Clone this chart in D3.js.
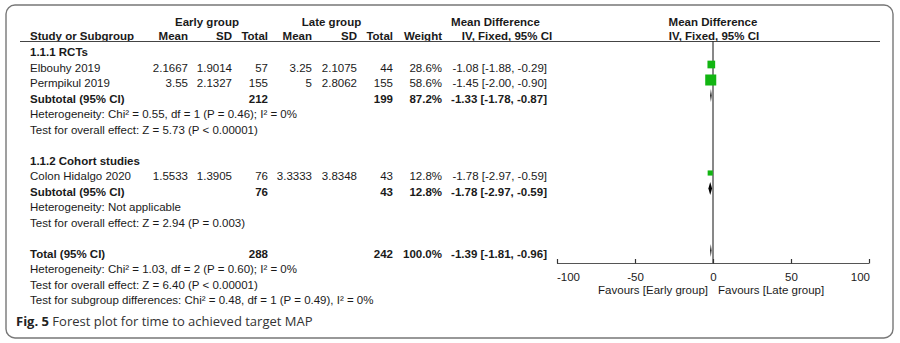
<!DOCTYPE html>
<html>
<head>
<meta charset="utf-8">
<script src="https://cdn.jsdelivr.net/npm/d3@7"></script>
<style>
  html, body { margin: 0; padding: 0; background: #fff; }
  svg { display: block; }
  text { font-family: "Liberation Sans", Arial, sans-serif; font-size: 11.5px; fill: #1a1a1a; }
  .b { font-weight: bold; }
  .cap { font-family: "Open Sans", "Noto Sans", sans-serif; font-size: 13px; fill: #333; }
</style>
</head>
<body>
<div id="chart"></div>
<script>
// ---------------- DATA ----------------
const studies      = ["Elbouhy 2019", "Permpikul 2019", "Colon Hidalgo 2020"];
const studyGroup   = [0, 0, 1];
const earlyMean    = ["2.1667", "3.55", "1.5533"];
const earlySD      = ["1.9014", "2.1327", "1.3905"];
const earlyTotal   = [57, 155, 76];
const lateMean     = ["3.25", "5", "3.3333"];
const lateSD       = ["2.1075", "2.8062", "3.8348"];
const lateTotal    = [44, 155, 43];
const weights      = [28.6, 58.6, 12.8];
const md           = [-1.08, -1.45, -1.78];
const ciLow        = [-1.88, -2.00, -2.97];
const ciHigh       = [-0.29, -0.90, -0.59];

const groupNames   = ["1.1.1 RCTs", "1.1.2 Cohort studies"];
const subEarly     = [212, 76];
const subLate      = [199, 43];
const subWeight    = [87.2, 12.8];
const subMd        = [-1.33, -1.78];
const subLow       = [-1.78, -2.97];
const subHigh      = [-0.87, -0.59];
const groupHet     = ["Heterogeneity: Chi² = 0.55, df = 1 (P = 0.46); I² = 0%", "Heterogeneity: Not applicable"];
const groupTest    = ["Test for overall effect: Z = 5.73 (P < 0.00001)", "Test for overall effect: Z = 2.94 (P = 0.003)"];

const totalEarly   = 288;
const totalLate    = 242;
const totalWeight  = 100.0;
const totalMd      = -1.39;
const totalLow     = -1.81;
const totalHigh    = -0.96;
const totalNotes   = ["Heterogeneity: Chi² = 1.03, df = 2 (P = 0.60); I² = 0%",
                      "Test for overall effect: Z = 6.40 (P < 0.00001)",
                      "Test for subgroup differences: Chi² = 0.48, df = 1 (P = 0.49), I² = 0%"];

const axisTicks    = [-100, -50, 0, 50, 100];
const favourLabels = ["Favours [Early group]", "Favours [Late group]"];
const captionBold  = "Fig. 5";
const captionText  = " Forest plot for time to achieved target MAP";

// ---------------- LAYOUT ----------------
const W = 900, H = 343;
const svg = d3.select("#chart").append("svg").attr("width", W).attr("height", H);

svg.append("rect").attr("x", 6).attr("y", 5).attr("width", 887).attr("height", 333)
  .attr("rx", 9).attr("fill", "none").attr("stroke", "#777").attr("stroke-width", 1.4);

const col = { study: 30, eMean: 188, eSD: 232, eTot: 268, lMean: 312, lSD: 357, lTot: 393, wt: 442, ci: 547 };
const x = d3.scaleLinear().domain([-100, 100]).range([557, 869]);
const size = d3.scaleSqrt().domain([0, 100]).range([0, 14.4]);
const rowY = i => 52 + i * 15.5;
const markOff = -3;
const fmt2 = v => v.toFixed(2);
const ciStr = (m, l, h) => `${fmt2(m)} [${fmt2(l)}, ${fmt2(h)}]`;

function txt(xp, y, s, anchor, bold) {
  svg.append("text").attr("x", xp).attr("y", y).attr("dy", "0.35em")
    .attr("text-anchor", anchor || "start").attr("class", bold ? "b" : null).text(s);
}

// headers
txt(207, 21.5, "Early group", "middle", true);
txt(331.5, 21.5, "Late group", "middle", true);
txt(495.5, 21.5, "Mean Difference", "middle", true);
txt(713, 21.5, "Mean Difference", "middle", true);
const hy = 36;
txt(col.study, hy, "Study or Subgroup", "start", true);
txt(col.eMean, hy, "Mean", "end", true);
txt(col.eSD, hy, "SD", "end", true);
txt(col.eTot, hy, "Total", "end", true);
txt(col.lMean, hy, "Mean", "end", true);
txt(col.lSD, hy, "SD", "end", true);
txt(col.lTot, hy, "Total", "end", true);
txt(col.wt, hy, "Weight", "end", true);
txt(507, hy, "IV, Fixed, 95% CI", "middle", true);
txt(714, hy, "IV, Fixed, 95% CI", "middle", true);

svg.append("line").attr("x1", 20).attr("x2", 880).attr("y1", 41.5).attr("y2", 41.5)
  .attr("stroke", "#444").attr("stroke-width", 1);

// zero line
svg.append("line").attr("x1", x(0)).attr("x2", x(0)).attr("y1", 41.5).attr("y2", 263.5)
  .attr("stroke", "#111").attr("stroke-width", 1);

function diamond(y, m, l, h) {
  const hh = 6.5;
  svg.append("path")
    .attr("d", `M${x(l)},${y} L${x(m)},${y - hh} L${x(h)},${y} L${x(m)},${y + hh} Z`)
    .attr("fill", "#000").attr("stroke", "none");
}

let r = 0;
groupNames.forEach((g, gi) => {
  txt(col.study, rowY(r), g, "start", true); r++;
  studies.forEach((s, i) => {
    if (studyGroup[i] !== gi) return;
    const y = rowY(r);
    txt(col.study, y, s);
    txt(col.eMean, y, earlyMean[i], "end");
    txt(col.eSD, y, earlySD[i], "end");
    txt(col.eTot, y, earlyTotal[i], "end");
    txt(col.lMean, y, lateMean[i], "end");
    txt(col.lSD, y, lateSD[i], "end");
    txt(col.lTot, y, lateTotal[i], "end");
    txt(col.wt, y, weights[i].toFixed(1) + "%", "end");
    txt(col.ci, y, ciStr(md[i], ciLow[i], ciHigh[i]), "end");
    const my = y + markOff;
    svg.append("line").attr("x1", x(ciLow[i])).attr("x2", x(ciHigh[i])).attr("y1", my).attr("y2", my)
      .attr("stroke", "#000").attr("stroke-width", 1);
    const sz = size(weights[i]);
    svg.append("rect").attr("x", x(md[i]) - sz / 2).attr("y", my - sz / 2)
      .attr("width", sz).attr("height", sz).attr("fill", "#12b512");
    r++;
  });
  const y = rowY(r);
  txt(col.study, y, "Subtotal (95% CI)", "start", true);
  txt(col.eTot, y, subEarly[gi], "end", true);
  txt(col.lTot, y, subLate[gi], "end", true);
  txt(col.wt, y, subWeight[gi].toFixed(1) + "%", "end", true);
  txt(col.ci, y, ciStr(subMd[gi], subLow[gi], subHigh[gi]), "end", true);
  diamond(y + markOff, subMd[gi], subLow[gi], subHigh[gi]);
  r++;
  txt(col.study, rowY(r), groupHet[gi]); r++;
  txt(col.study, rowY(r), groupTest[gi]); r++;
  r++;
});

const ty = rowY(r);
txt(col.study, ty, "Total (95% CI)", "start", true);
txt(col.eTot, ty, totalEarly, "end", true);
txt(col.lTot, ty, totalLate, "end", true);
txt(col.wt, ty, totalWeight.toFixed(1) + "%", "end", true);
txt(col.ci, ty, ciStr(totalMd, totalLow, totalHigh), "end", true);
diamond(ty + markOff, totalMd, totalLow, totalHigh);
r++;
totalNotes.forEach(n => { txt(col.study, rowY(r), n); r++; });

// axis
const axisY = 263.5;
const ax = svg.append("g").attr("transform", `translate(0,${axisY})`)
  .call(d3.axisBottom(x).tickValues(axisTicks).tickFormat(d => String(d))
    .tickSize(-4.5).tickPadding(9).tickSizeOuter(0));
ax.select(".domain").attr("stroke", "#555").attr("stroke-width", 1.2).attr("d", `M${x(-100)},0H${x(100)}`);
ax.selectAll(".tick line").attr("stroke", "#333").attr("stroke-width", 1.2);
ax.selectAll(".tick text").style("font-family", "Liberation Sans, Arial, sans-serif")
  .style("font-size", "11.5px").attr("fill", "#1a1a1a")
  .attr("text-anchor", d => d === axisTicks[0] ? "start" : (d === axisTicks[axisTicks.length - 1] ? "end" : "middle"));
ax.selectAll(".tick text").attr("x", d => d === axisTicks[0] ? -0.5 : (d === axisTicks[axisTicks.length - 1] ? 0.5 : 0));

txt(x(0) - 5, 290, favourLabels[0], "end");
txt(x(0) + 5, 290, favourLabels[1], "start");

// caption
const cap = svg.append("text").attr("class", "cap").attr("x", 16).attr("y", 321).attr("dy", "0.35em");
cap.append("tspan").attr("font-weight", "bold").style("fill", "#222").text(captionBold);
cap.append("tspan").text(captionText);
</script>
</body>
</html>
